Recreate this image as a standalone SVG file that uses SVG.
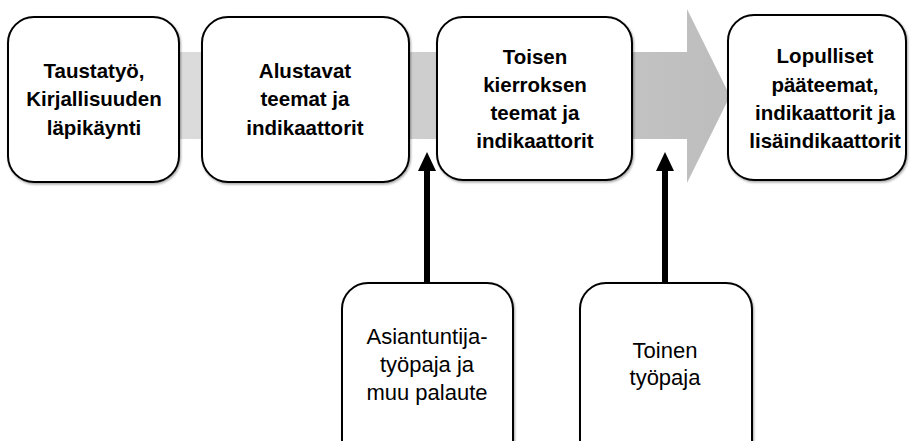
<svg xmlns="http://www.w3.org/2000/svg" width="910" height="441" viewBox="0 0 910 441">
  <defs>
    <linearGradient id="flowGrad" gradientUnits="userSpaceOnUse" x1="60" y1="0" x2="727" y2="0">
      <stop offset="0" stop-color="#e2e2e2"/>
      <stop offset="1" stop-color="#bdbdbd"/>
    </linearGradient>
    <filter id="shadow" x="-10%" y="-10%" width="120%" height="120%">
      <feDropShadow dx="1" dy="1.5" stdDeviation="1.2" flood-color="#000" flood-opacity="0.35"/>
    </filter>
  </defs>
  <style>
    .box { fill: #ffffff; stroke: #000000; stroke-width: 2; filter: url(#shadow); }
    .bold { font-family: "Liberation Sans", Arial, sans-serif; font-weight: bold; font-size: 20.5px; fill: #000; text-anchor: middle; }
    .reg { font-family: "Liberation Sans", Arial, sans-serif; font-size: 22px; fill: #000; text-anchor: middle; }
    .shaft { stroke: #000; stroke-width: 6; fill: none; }
    .head { fill: #000; }
  </style>
  <rect width="910" height="441" fill="#ffffff"/>

  <g id="flow-arrow">
    <path d="M 60 52 L 687 52 L 687 9 L 730 96 L 687 183 L 687 139 L 60 139 Z" fill="url(#flowGrad)"/>
  </g>

  <g id="connectors">
    <line class="shaft" x1="427" y1="284" x2="427" y2="168"/>
    <polygon class="head" points="427,152 418,171 436,171"/>
    <line class="shaft" x1="665" y1="284" x2="665" y2="168"/>
    <polygon class="head" points="665,152 656,171 674,171"/>
  </g>

  <g id="node-taustatyo">
    <rect class="box" x="8" y="17" width="171" height="165" rx="26" ry="26"/>
    <text class="bold" x="94" y="78">Taustatyö,</text>
    <text class="bold" x="94" y="106">Kirjallisuuden</text>
    <text class="bold" x="94" y="135">läpikäynti</text>
  </g>

  <g id="node-alustavat">
    <rect class="box" x="202" y="17" width="207" height="165" rx="26" ry="26"/>
    <text class="bold" x="305" y="78">Alustavat</text>
    <text class="bold" x="305" y="106">teemat ja</text>
    <text class="bold" x="305" y="135">indikaattorit</text>
  </g>

  <g id="node-toisen">
    <rect class="box" x="437" y="17" width="195" height="163" rx="26" ry="26"/>
    <text class="bold" x="535" y="64">Toisen</text>
    <text class="bold" x="535" y="92">kierroksen</text>
    <text class="bold" x="535" y="120">teemat ja</text>
    <text class="bold" x="535" y="148">indikaattorit</text>
  </g>

  <g id="node-lopulliset">
    <rect class="box" x="728" y="15" width="178" height="165" rx="26" ry="26"/>
    <text class="bold" x="825" y="63">Lopulliset</text>
    <text class="bold" x="825" y="92">pääteemat,</text>
    <text class="bold" x="825" y="120">indikaattorit ja</text>
    <text class="bold" x="825" y="148">lisäindikaattorit</text>
  </g>

  <g id="node-asiantuntija">
    <rect class="box" x="342" y="283" width="171" height="190" rx="26" ry="26"/>
    <text class="reg" x="427" y="344">Asiantuntija-</text>
    <text class="reg" x="427" y="372">työpaja ja</text>
    <text class="reg" x="427" y="400">muu palaute</text>
  </g>

  <g id="node-toinen">
    <rect class="box" x="580" y="283" width="172" height="190" rx="26" ry="26"/>
    <text class="reg" x="665" y="358">Toinen</text>
    <text class="reg" x="665" y="385">työpaja</text>
  </g>
</svg>
